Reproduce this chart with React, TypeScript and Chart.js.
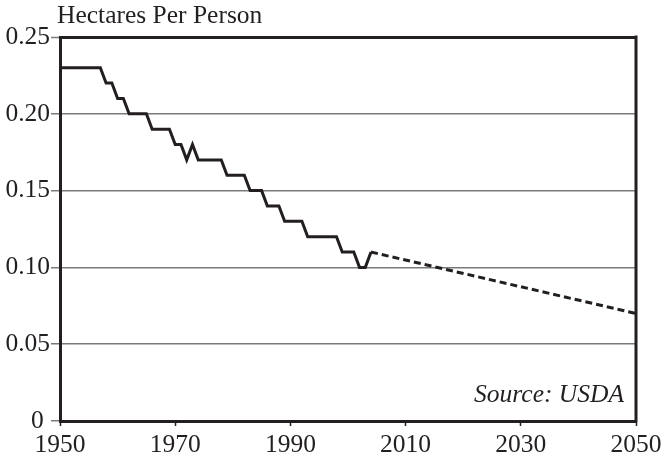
import React, { useEffect, useRef } from "react";
import { Chart, registerables } from "chart.js";

Chart.register(...registerables);

const histYears = [
  1950, 1951, 1952, 1953, 1954, 1955, 1956, 1957, 1958, 1959,
  1960, 1961, 1962, 1963, 1964, 1965, 1966, 1967, 1968, 1969,
  1970, 1971, 1972, 1973, 1974, 1975, 1976, 1977, 1978, 1979,
  1980, 1981, 1982, 1983, 1984, 1985, 1986, 1987, 1988, 1989,
  1990, 1991, 1992, 1993, 1994, 1995, 1996, 1997, 1998, 1999,
  2000, 2001, 2002, 2003, 2004,
];
const histValues = [
  0.23, 0.23, 0.23, 0.23, 0.23, 0.23, 0.23, 0.23, 0.22, 0.22,
  0.21, 0.21, 0.2, 0.2, 0.2, 0.2, 0.19, 0.19, 0.19, 0.19,
  0.18, 0.18, 0.17, 0.18, 0.17, 0.17, 0.17, 0.17, 0.17, 0.16,
  0.16, 0.16, 0.16, 0.15, 0.15, 0.15, 0.14, 0.14, 0.14, 0.13,
  0.13, 0.13, 0.13, 0.12, 0.12, 0.12, 0.12, 0.12, 0.12, 0.11,
  0.11, 0.11, 0.1, 0.1, 0.11,
];
const projYears = [2004, 2050];
const projValues = [0.11, 0.07];

const xTicks = [1950, 1970, 1990, 2010, 2030, 2050];
const yTicks = [0, 0.05, 0.1, 0.15, 0.2, 0.25];

const yTitle = "Hectares Per Person";
const sourceNote = "Source: USDA";

const INK = "#231f20";
const GRID = "#7a7a7a";
const FONT = "'Liberation Serif', 'Times New Roman', serif";
const FS = 25.5;

export default function App() {
  const ref = useRef<HTMLCanvasElement | null>(null);

  useEffect(() => {
    if (!ref.current) return;
    const textPlugin = {
      id: "texts",
      afterDraw(chart: any) {
        const { ctx, chartArea } = chart;
        ctx.save();
        ctx.strokeStyle = INK;
        ctx.lineWidth = 3;
        ctx.beginPath();
        ctx.moveTo(chartArea.right, chartArea.top - 1.5);
        ctx.lineTo(chartArea.right, chartArea.bottom + 1.5);
        ctx.stroke();
        ctx.fillStyle = INK;
        ctx.font = `${FS}px ${FONT}`;
        ctx.textAlign = "left";
        ctx.textBaseline = "alphabetic";
        ctx.fillText(yTitle, chartArea.left - 3, chartArea.top - 14);
        ctx.font = `italic ${FS}px ${FONT}`;
        ctx.textAlign = "right";
        ctx.fillText(sourceNote, chartArea.right - 12, chartArea.bottom - 19);
        ctx.restore();
      },
    };

    const isTop = (v: number) => Math.abs(v - 0.25) < 1e-9;

    const chart = new Chart(ref.current, {
      type: "line",
      data: {
        datasets: [
          {
            data: histYears.map((x, i) => ({ x, y: histValues[i] })),
            borderColor: INK,
            borderWidth: 3,
            pointRadius: 0,
            tension: 0,
            fill: false,
          },
          {
            data: projYears.map((x, i) => ({ x, y: projValues[i] })),
            borderColor: INK,
            borderWidth: 3,
            borderDash: [7, 4],
            pointRadius: 0,
            tension: 0,
            fill: false,
          },
        ],
      },
      plugins: [textPlugin],
      options: {
        animation: false,
        responsive: true,
        maintainAspectRatio: false,
        layout: { padding: { top: 37, right: 32, left: 0, bottom: 0 } },
        plugins: {
          legend: { display: false },
          tooltip: { enabled: false },
          title: { display: false },
        },
        scales: {
          x: {
            type: "linear",
            min: 1950,
            max: 2050,
            afterBuildTicks: (scale: any) => {
              scale.ticks = xTicks.map((v) => ({ value: v }));
            },
            afterFit: (scale: any) => {
              scale.height = 35;
            },
            ticks: {
              color: INK,
              font: { family: FONT, size: FS },
              padding: 4,
              maxRotation: 0,
              autoSkip: false,
              callback: (v: any) => String(v),
            },
            grid: {
              drawOnChartArea: false,
              drawTicks: true,
              tickLength: 5,
              tickColor: INK,
              tickWidth: 1.5,
            },
            border: { display: true, color: INK, width: 3 },
          },
          y: {
            min: 0,
            max: 0.25,
            afterBuildTicks: (scale: any) => {
              scale.ticks = yTicks.map((v) => ({ value: v }));
            },
            afterFit: (scale: any) => {
              scale.width = 60;
            },
            ticks: {
              color: INK,
              font: { family: FONT, size: FS },
              padding: 1,
              autoSkip: false,
              callback: (v: any) => (v === 0 ? "0 " : Number(v).toFixed(2)),
            },
            grid: {
              drawOnChartArea: true,
              drawTicks: true,
              tickLength: 9,
              color: (c: any) =>
                c.tick && isTop(c.tick.value) ? INK : c.tick && c.tick.value === 0 ? INK : GRID,
              lineWidth: (c: any) => (c.tick && isTop(c.tick.value) ? 3 : 1.5),
              tickColor: GRID,
              tickWidth: 1.5,
            },
            border: { display: true, color: INK, width: 3 },
          },
        },
      },
    } as any);
    return () => chart.destroy();
  }, []);

  return (
    <div style={{ position: "fixed", left: 0, top: 0, width: 668, height: 456, background: "#fff" }}>
      <canvas ref={ref} />
    </div>
  );
}
